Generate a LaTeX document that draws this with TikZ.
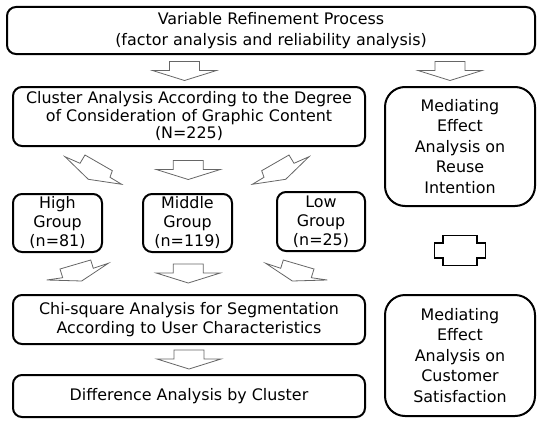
\documentclass[tikz,border=0pt]{standalone}
\usepackage{fontspec}
\setmainfont{DejaVu Sans}
\usetikzlibrary{calc,positioning}

\begin{document}
\begin{tikzpicture}[x=1pt,y=-1pt,
        box/.style={
                draw=black,
                line width=2pt,
                rounded corners=9pt,
                align=center,
                inner sep=0pt,
                font=\fontsize{15.9}{18.5}\selectfont
            },
        sidebox/.style={
                box,
                rounded corners=20pt,
                minimum width=150pt,
                font=\fontsize{15.9}{20.5}\selectfont
            },
        groupbox/.style={
                box,
                minimum width=89pt,
                minimum height=58pt,
                font=\fontsize{15.9}{19}\selectfont
            },
        blockarrow/.style={
                draw=black!60,
                fill=white,
                line width=0.8pt,
                line join=miter
            },
        downarrow/.pic={
                \draw[blockarrow] (-15,-9.5) -- (15,-9.5) -- (15,-0.5) -- (32,-0.5)
                    -- (0,9.5) -- (-32,-0.5) -- (-15,-0.5) -- cycle;
            },
        slantdown/.pic={
                \draw[blockarrow] (-122,6.7) -- (-107,13.3) -- (-102,5) -- (-74.7,20.7)
                    -- (-77,27.3) -- (-65.3,34.3) -- (-98.7,29.3) -- cycle;
            },
        slantup/.pic={
                \draw[blockarrow] (-140.3,25) -- (-124.3,22.7) -- (-127,14) -- (-96.3,5)
                    -- (-93.7,13.3) -- (-78.7,8.3) -- (-105.3,26) -- cycle;
            },
        updown/.pic={
                \draw[line width=1.8pt, line join=miter] (-17,-15) -- (17,-15) -- (17,-7.5) -- (25.5,-7.5)
                    -- (25.5,7.5) -- (17,7.5) -- (17,15) -- (-17,15) -- (-17,7.5) -- (-25.5,7.5)
                    -- (-25.5,-7.5) -- (-17,-7.5) -- cycle;
            }
    ]
    \useasboundingbox (0,0) rectangle (537,420);

    % main column
    \node[box, minimum width=528pt, minimum height=47pt,
        font=\fontsize{15.9}{21}\selectfont] (topic) at (271,30.5)
        {\raisebox{-2pt}{\parbox{500pt}{\centering Variable Refinement Process\\(factor analysis and reliability analysis)}}};
    \node[box, minimum width=352pt, minimum height=59pt,
        font=\fontsize{15.9}{17.5}\selectfont] (cluster) at (189,116.5)
        {Cluster Analysis According to the Degree\\of Consideration of Graphic Content\\(N=225)};
    \node[groupbox] (high) at (57.5,223) {High\\Group\\(n=81)};
    \node[groupbox] (middle) at (187.5,223) {Middle\\Group\\(n=119)};
    \node[groupbox, minimum width=88pt, minimum height=59pt] (low) at (321,221.5) {Low\\Group\\(n=25)};
    \node[box, minimum width=352pt, minimum height=49pt] (chisq) at (189,319.5)
        {Chi-square Analysis for Segmentation\\According to User Characteristics};
    \node[box, minimum width=352pt, minimum height=42pt] (diff) at (189,396)
        {Difference Analysis by Cluster};

    % side column
    \node[sidebox, minimum height=119pt] (reuse) at (460,146.5)
        {Mediating\\Effect\\Analysis on\\Reuse\\Intention};
    \node[sidebox, minimum height=121pt] (satis) at (460,355.5)
        {Mediating\\Effect\\Analysis on\\Customer\\Satisfaction};

    % block arrows
    \pic at (184.5,71) {downarrow};
    \pic at (450,71) {downarrow};
    \pic at (187,150) {slantdown};
    \pic at ($(cluster.south)!0.5!(middle.north)$) {downarrow};
    \pic[xscale=-1] at (187,150) {slantdown};
    \pic at (187,255) {slantup};
    \pic at ($(middle.south)!0.5!(chisq.north)$) {downarrow};
    \pic[xscale=-1] at (187,255) {slantup};
    \pic at ($(chisq.south)!0.5!(diff.north)$) {downarrow};
    \pic at ($(reuse.south)!0.5!(satis.north)$) {updown};
\end{tikzpicture}
\end{document}
